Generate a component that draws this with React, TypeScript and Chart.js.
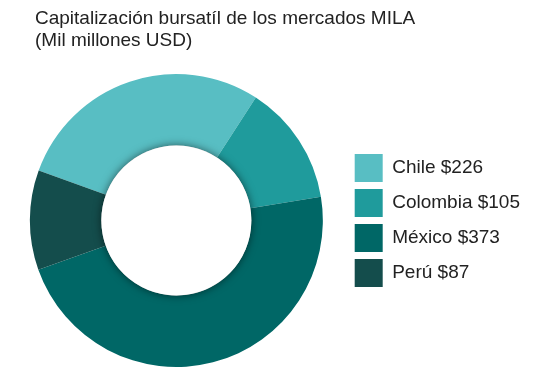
import React, { useEffect, useRef } from "react";
import { Chart, registerables } from "chart.js";

Chart.register(...registerables);

const titleLines = ["Capitalización bursatíl de los mercados MILA", "(Mil millones USD)"];
const categories = ["Chile", "Colombia", "México", "Perú"];
const values = [226, 105, 373, 87];
const colors = ["#58BEC3", "#1F9B9C", "#006766", "#144D4C"];

const FONT = "'Liberation Sans', Arial, Helvetica, sans-serif";

const titleShift = {
  id: "titleShift",
  afterLayout(chart: any) {
    const t = chart.titleBlock;
    if (t) {
      const w = t.right - t.left;
      t.left = 35;
      t.right = 35 + w;
    }
  },
};

const innerShadow = {
  id: "innerShadow",
  afterDatasetsDraw(chart: any) {
    const meta = chart.getDatasetMeta(0);
    const arc = meta.data[0];
    if (!arc) return;
    const { x, y, innerRadius } = arc.getProps(["x", "y", "innerRadius"], true);
    const ctx = chart.ctx;
    ctx.save();
    ctx.beginPath();
    ctx.arc(x, y, innerRadius, 0, Math.PI * 2);
    ctx.shadowColor = "rgba(0,0,0,0.55)";
    ctx.shadowBlur = 9;
    ctx.shadowOffsetX = 0;
    ctx.shadowOffsetY = 0;
    ctx.fillStyle = "#ffffff";
    ctx.fill();
    ctx.restore();
  },
};

export default function App() {
  const ref = useRef<HTMLCanvasElement | null>(null);

  useEffect(() => {
    if (!ref.current) return;
    const baseGen = (Chart as any).overrides.doughnut.plugins.legend.labels.generateLabels;
    const chart = new Chart(ref.current, {
      type: "doughnut",
      data: {
        labels: categories,
        datasets: [
          {
            data: values,
            backgroundColor: colors,
            borderWidth: 0,
          },
        ],
      },
      options: {
        responsive: false,
        animation: false,
        devicePixelRatio: 1,
        rotation: -70,
        cutout: "51.2%",
        layout: { padding: { left: 5, right: 20, top: 0, bottom: 10 } },
        plugins: {
          title: {
            display: true,
            text: titleLines,
            align: "start",
            color: "#222222",
            font: { family: FONT, size: 19, weight: "normal", lineHeight: 22 / 19 },
            padding: { top: 8, bottom: 22 },
          },
          legend: {
            display: true,
            position: "right",
            align: "center",
            fullSize: false,
            labels: {
              boxWidth: 28,
              boxHeight: 28,
              padding: 7,
              color: "#222222",
              font: { family: FONT, size: 19 },
              generateLabels: (c: any) =>
                baseGen(c).map((item: any, i: number) => ({
                  ...item,
                  text: `${categories[i]} $${values[i]}`,
                  lineWidth: 0,
                })),
            },
          },
          tooltip: { enabled: false },
        },
      },
      plugins: [titleShift, innerShadow],
    });
    return () => chart.destroy();
  }, []);

  return (
    <div style={{ position: "absolute", left: 0, top: 0, width: 550, height: 377, background: "#fff" }}>
      <canvas ref={ref} width={550} height={377} style={{ display: "block" }} />
    </div>
  );
}
